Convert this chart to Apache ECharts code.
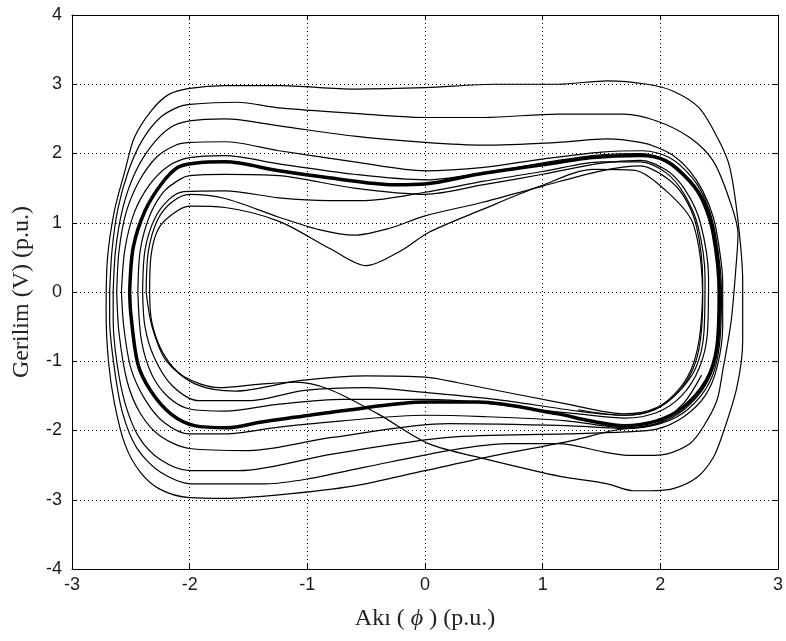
<!DOCTYPE html>
<html>
<head>
<meta charset="utf-8">
<script src="https://cdn.jsdelivr.net/npm/echarts@6/dist/echarts.min.js"></script>
<style>
  html, body { margin: 0; padding: 0; background: #fff; }
  #chart { width: 786px; height: 641px; }
</style>
</head>
<body>
<div id="chart"></div>
<script>
// tick values of the two axes
const xTicks = [-3, -2, -1, 0, 1, 2, 3]
const yTicks = [-4, -3, -2, -1, 0, 1, 2, 3, 4]

// limit cycle (thick band)
const limitCycle = [[-2.51,0],[-2.48,0.64],[-2.38,1.17],[-2.24,1.56],[-2.10,1.80],[-1.96,1.86],[-1.7,1.88],[-1.24,1.75],[-0.82,1.65],[-0.26,1.55],[0,1.56],[0.45,1.70],[1.13,1.87],[1.40,1.94],[1.83,1.97],[2.05,1.89],[2.25,1.6],[2.36,1.32],[2.45,0.84],[2.50,0],[2.48,-0.80],[2.39,-1.28],[2.19,-1.67],[1.97,-1.86],[1.69,-1.93],[1.40,-1.86],[1.13,-1.76],[0.45,-1.59],[0,-1.59],[-0.68,-1.71],[-1.11,-1.81],[-1.40,-1.88],[-1.68,-1.96],[-1.96,-1.93],[-2.16,-1.76],[-2.33,-1.43],[-2.44,-1.04],[-2.50,-0.32],[-2.51,0]]

// outer loops
const loop2 = [[-2.68,0],[-2.66,0.6],[-2.61,1.2],[-2.52,1.75],[-2.40,2.2],[-2.25,2.52],[-2.1,2.67],[-2,2.71],[-1.6,2.74],[-1.24,2.66],[-0.6,2.58],[0,2.52],[0.5,2.52],[1.13,2.57],[1.69,2.57],[1.97,2.47],[2.25,2.23],[2.45,1.89],[2.59,1.32],[2.66,0.84],[2.64,0.3],[2.61,-0.3],[2.59,-0.56],[2.53,-1.14],[2.48,-1.57],[2.36,-1.96],[2.25,-2.19],[2.05,-2.34],[1.89,-2.36],[1.74,-2.36],[1.55,-2.32],[1.13,-2.19],[0.7,-2.19],[0.2,-2.29],[-0.51,-2.53],[-1.0,-2.7],[-1.35,-2.77],[-1.98,-2.77],[-2.25,-2.6],[-2.45,-2.25],[-2.57,-1.75],[-2.64,-1.1],[-2.68,-0.4],[-2.68,0]]
const loop3 = [[-2.65,0],[-2.63,0.6],[-2.57,1.2],[-2.47,1.7],[-2.33,2.1],[-2.17,2.37],[-2,2.47],[-1.7,2.5],[-1.24,2.40],[-0.6,2.25],[0,2.16],[0.5,2.12],[1.13,2.16],[1.55,2.21],[1.83,2.16],[1.97,2.09],[2.11,1.97],[2.25,1.75],[2.36,1.46],[2.45,1.08],[2.50,0.64],[2.53,0.16],[2.53,-0.5],[2.48,-1.1],[2.38,-1.5],[2.2,-1.8],[1.97,-1.98],[1.7,-2.02],[1.2,-2.05],[0.2,-2.10],[-0.79,-2.34],[-1.58,-2.58],[-2,-2.58],[-2.25,-2.42],[-2.43,-2.1],[-2.55,-1.6],[-2.62,-1.0],[-2.65,-0.4],[-2.65,0]]
const loop4 = [[-2.62,0],[-2.60,0.6],[-2.54,1.15],[-2.43,1.6],[-2.28,1.95],[-2.12,2.12],[-2,2.16],[-1.7,2.17],[-1.24,2.04],[-0.6,1.88],[0,1.75],[0.5,1.80],[1.0,1.92],[1.5,2.02],[1.85,2.04],[2.08,1.94],[2.27,1.65],[2.39,1.3],[2.47,0.82],[2.52,0],[2.50,-0.8],[2.42,-1.3],[2.23,-1.7],[2.0,-1.9],[1.7,-1.97],[1.2,-1.93],[0.2,-1.90],[-0.79,-2.10],[-1.5,-2.29],[-2,-2.26],[-2.25,-2.08],[-2.42,-1.75],[-2.53,-1.3],[-2.6,-0.6],[-2.62,0]]
const loop5 = [[-2.58,0],[-2.55,0.62],[-2.47,1.15],[-2.34,1.55],[-2.18,1.82],[-2.0,1.94],[-1.7,1.97],[-1.24,1.85],[-0.6,1.70],[0,1.62],[0.5,1.72],[1.13,1.9],[1.5,1.98],[1.83,2.0],[2.06,1.9],[2.26,1.6],[2.38,1.3],[2.46,0.84],[2.51,0],[2.49,-0.8],[2.40,-1.3],[2.2,-1.7],[1.97,-1.9],[1.7,-1.96],[1.2,-1.86],[0.5,-1.8],[0,-1.78],[-0.7,-1.86],[-1.24,-1.95],[-1.7,-2.05],[-2.0,-2.05],[-2.22,-1.88],[-2.38,-1.55],[-2.5,-1.1],[-2.56,-0.5],[-2.58,0]]

// inner loops
const inner1 = [[-2.44,0],[-2.42,0.6],[-2.34,1.1],[-2.22,1.45],[-2.08,1.63],[-2,1.68],[-1.7,1.7],[-1.24,1.68],[-0.6,1.5],[0,1.41],[0.5,1.55],[1,1.70],[1.5,1.86],[1.83,1.90],[2.06,1.75],[2.22,1.45],[2.34,1.0],[2.41,0.2],[2.40,-0.6],[2.33,-1.1],[2.18,-1.5],[1.97,-1.74],[1.7,-1.82],[1.3,-1.76],[1.0,-1.71],[0.5,-1.6],[0,-1.55],[-0.7,-1.55],[-1.24,-1.62],[-1.7,-1.72],[-2.0,-1.69],[-2.18,-1.52],[-2.32,-1.2],[-2.41,-0.7],[-2.44,0]]
const inner2 = [[-2.40,0],[-2.38,0.6],[-2.30,1.05],[-2.18,1.33],[-2.05,1.45],[-1.7,1.46],[-1.24,1.36],[-0.82,1.32],[-0.51,1.32],[0,1.44],[0.5,1.6],[1,1.74],[1.5,1.88],[1.83,1.88],[2.05,1.72],[2.2,1.42],[2.32,0.95],[2.38,0.2],[2.37,-0.6],[2.30,-1.1],[2.15,-1.45],[1.95,-1.7],[1.7,-1.78],[1.3,-1.72],[0.6,-1.55],[0,-1.45],[-0.5,-1.38],[-1.02,-1.42],[-1.5,-1.57],[-1.92,-1.57],[-2.15,-1.35],[-2.3,-0.95],[-2.38,-0.5],[-2.40,0]]
const inner3 = [[-2.37,0],[-2.35,0.6],[-2.27,1.05],[-2.15,1.3],[-2,1.41],[-1.7,1.35],[-1.24,1.08],[-0.9,0.9],[-0.6,0.82],[-0.3,0.92],[0,1.10],[0.5,1.30],[1,1.53],[1.5,1.75],[1.83,1.82],[2.05,1.65],[2.2,1.38],[2.31,0.93],[2.36,0.16],[2.34,-0.56],[2.28,-1.04],[2.17,-1.38],[1.97,-1.67],[1.69,-1.76],[1.21,-1.62],[0.28,-1.31],[0,-1.23],[-0.5,-1.21],[-1.07,-1.28],[-1.61,-1.43],[-1.95,-1.33],[-2.20,-0.99],[-2.32,-0.5],[-2.37,0]]

// transient: outermost turn, then the dip loop
const transient = [[2.35,-1.2],[2.2,-1.6],[1.97,-1.9],[1.6,-2.0],[1.24,-2.15],[0.6,-2.36],[0,-2.58],[-0.6,-2.8],[-1.24,-2.93],[-1.7,-2.98],[-2.0,-2.97],[-2.25,-2.85],[-2.42,-2.6],[-2.55,-2.2],[-2.64,-1.6],[-2.69,-1.0],[-2.71,-0.3],[-2.70,0.45],[-2.64,1.17],[-2.55,1.75],[-2.47,2.23],[-2.33,2.61],[-2.18,2.85],[-2,2.94],[-1.7,2.98],[-1.24,2.98],[-0.6,2.93],[0,2.95],[0.6,3.0],[1.13,3.0],[1.55,3.05],[1.89,3.0],[2.11,2.9],[2.33,2.66],[2.50,2.18],[2.59,1.8],[2.66,1.03],[2.70,0.16],[2.70,-0.70],[2.65,-1.38],[2.53,-2.05],[2.45,-2.39],[2.31,-2.68],[2.11,-2.84],[1.91,-2.87],[1.77,-2.87],[1.55,-2.77],[1.21,-2.68],[0.98,-2.60],[0.51,-2.41],[0.03,-2.19],[-0.40,-1.76],[-0.82,-1.40],[-1.1,-1.3],[-1.4,-1.33],[-1.75,-1.38],[-2.05,-1.22],[-2.22,-0.9],[-2.32,-0.45],[-2.34,0],[-2.33,0.5],[-2.27,0.9],[-2.15,1.12],[-2.0,1.24],[-1.7,1.22],[-1.24,1.02],[-0.8,0.62],[-0.5,0.38],[-0.2,0.6],[0.03,0.86],[0.5,1.2],[0.98,1.53],[1.43,1.77],[1.77,1.76],[2.05,1.46],[2.28,0.98],[2.36,-0.13],[2.34,-0.7],[2.28,-1.1],[2.15,-1.45],[1.95,-1.7],[1.69,-1.78],[1.3,-1.7]]

const thinLoops = [loop2, loop3, loop4, loop5, inner1, inner2, inner3, transient]

const chart = echarts.init(document.getElementById('chart'), null, { renderer: 'canvas' })

const tickFont = { color: '#1a1a1a', fontSize: 18, fontFamily: 'Liberation Sans' }
const titleFont = { fontFamily: 'Liberation Serif', fontSize: 24, color: '#222' }

function boxAxis(pos, ticks) {
  return {
    type: 'value',
    position: pos,
    min: ticks[0],
    max: ticks[ticks.length - 1],
    interval: 1,
    axisLine: { show: true, onZero: false, lineStyle: { color: '#000', width: 1 } },
    axisTick: { show: true, inside: true, length: 5, lineStyle: { color: '#000' } },
    axisLabel: { show: false },
    splitLine: { show: false }
  }
}

const series = thinLoops.map(d => ({
  type: 'line',
  data: d,
  showSymbol: false,
  smooth: 0.3,
  silent: true,
  lineStyle: { color: '#000', width: 1.2 }
}))
series.push({
  type: 'line',
  data: limitCycle,
  showSymbol: false,
  smooth: 0.3,
  silent: true,
  lineStyle: { color: '#000', width: 3.5 }
})

const option = {
  backgroundColor: '#fff',
  animation: false,
  grid: { left: 72, right: 7, top: 15, bottom: 72 },
  xAxis: [
    {
      type: 'value',
      min: xTicks[0],
      max: xTicks[xTicks.length - 1],
      interval: 1,
      name: 'Akı ( {i|ϕ} ) (p.u.)',
      nameLocation: 'middle',
      nameGap: 38,
      nameTextStyle: Object.assign({
        rich: { i: { fontFamily: 'Liberation Serif', fontSize: 24, fontStyle: 'italic', color: '#222' } }
      }, titleFont),
      axisLine: { show: true, onZero: false, lineStyle: { color: '#000', width: 1 } },
      axisTick: { show: true, inside: true, length: 5, lineStyle: { color: '#000' } },
      axisLabel: Object.assign({ margin: 7 }, tickFont),
      splitLine: { show: true, lineStyle: { color: '#000', width: 1, type: [1, 3] } }
    },
    boxAxis('top', xTicks)
  ],
  yAxis: [
    {
      type: 'value',
      min: yTicks[0],
      max: yTicks[yTicks.length - 1],
      interval: 1,
      name: 'Gerilim (V) (p.u.)',
      nameLocation: 'middle',
      nameGap: 38,
      nameTextStyle: titleFont,
      axisLine: { show: true, onZero: false, lineStyle: { color: '#000', width: 1 } },
      axisTick: { show: true, inside: true, length: 5, lineStyle: { color: '#000' } },
      axisLabel: Object.assign({ margin: 10 }, tickFont),
      splitLine: { show: true, lineStyle: { color: '#000', width: 1, type: [1, 3] } }
    },
    boxAxis('right', yTicks)
  ],
  series: series
}

chart.setOption(option)
</script>
</body>
</html>
